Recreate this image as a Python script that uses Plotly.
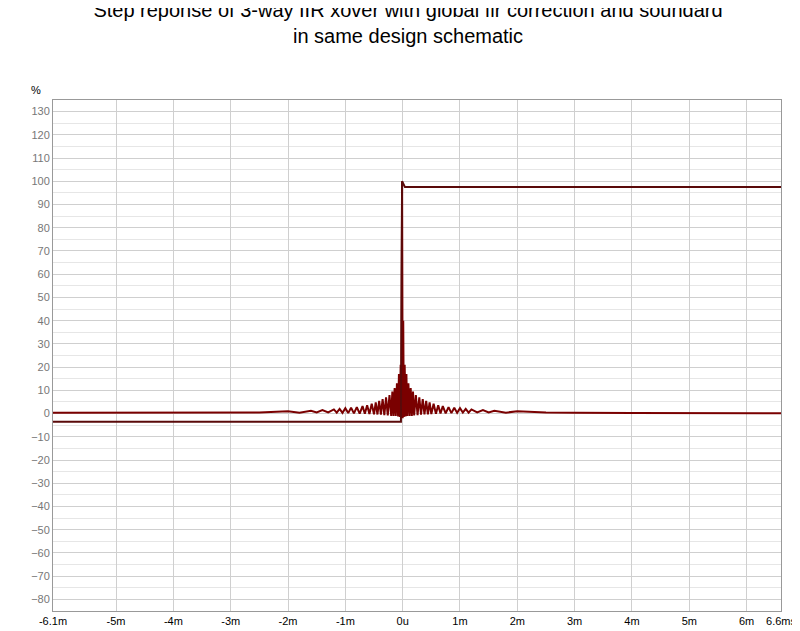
import plotly.graph_objects as go

# step response (ms, %)
step_t = [-6.1, -0.03, -0.02, -0.01, 0.04, 0.05, 6.6]
step_y = [-3.5, -3.5, 60.0, 100.0, 97.5, 97.5, 97.5]

# fir correction ringing (ms, %)
ring_t = [-6.1, -4.0, -3.0, -2.5, -2.0, -1.8, -1.6, -1.5, -1.4, -1.3, -1.2, -1.15, -1.1, -1.05, -1.0,
          -0.95, -0.9, -0.85, -0.8, -0.75, -0.7, -0.66, -0.62, -0.58, -0.54, -0.5, -0.47, -0.44,
          -0.41, -0.38, -0.35, -0.32, -0.29, -0.26, -0.23, -0.2, -0.18, -0.16, -0.14, -0.12, -0.1,
          -0.08, -0.065, -0.05, -0.035, -0.02, -0.01,
          0.0, 0.01, 0.02, 0.035, 0.05, 0.065, 0.08, 0.1, 0.12, 0.14, 0.16, 0.18, 0.2, 0.23, 0.26,
          0.29, 0.32, 0.35, 0.38, 0.41, 0.44, 0.47, 0.5, 0.54, 0.58, 0.62, 0.66, 0.7, 0.75, 0.8,
          0.85, 0.9, 0.95, 1.0, 1.05, 1.1, 1.15, 1.2, 1.3, 1.4, 1.5, 1.6, 1.8, 2.0, 2.5, 3.0, 4.0, 6.6]
ring_y = [0.3, 0.4, 0.6, 0.5, 1.0, 0.4, 1.2, 0.5, 1.5, 0.5, 1.8, 0.4, 2.0, 0.3, 2.3,
          0.2, 2.5, 0.1, 2.8, 0.0, 3.2, -0.1, 3.6, -0.2, 4.2, -0.3, 4.8, -0.4,
          5.5, -0.5, 6.2, -0.7, 7.0, -0.8, 8.0, -1.0, 9.5, -1.0, 11.0, -1.0, 13.0,
          -1.2, 17.0, -1.5, 21.0, -2.0, 100.0,
          -2.0, 40.0, -1.5, 21.0, -1.2, 17.0, -1.0, 13.0, -1.0, 11.0, -1.0, 9.5, -0.8, 8.0, -0.7,
          7.0, -0.5, 6.2, -0.4, 5.5, -0.3, 4.8, -0.2, 4.2, -0.1, 3.6, 0.0, 3.2, 0.1, 2.8,
          0.2, 2.5, 0.3, 2.3, 0.4, 2.0, 0.4, 1.8, 0.5, 1.5, 0.5, 1.2, 0.4, 1.0, 0.5, 0.4, 0.2, 0.1]

x_ticks = [-6.1, -5, -4, -3, -2, -1, 0, 1, 2, 3, 4, 5, 6, 6.6]
x_labels = ['-6.1m', '-5m', '-4m', '-3m', '-2m', '-1m', '0u', '1m', '2m', '3m', '4m', '5m', '6m', '6.6ms']
y_ticks = list(range(-80, 140, 10))

fig = go.Figure()
fig.add_trace(go.Scatter(x=ring_t, y=ring_y, mode='lines', line=dict(color='#7a0000', width=2), showlegend=False))
fig.add_trace(go.Scatter(x=step_t, y=step_y, mode='lines', line=dict(color='#5a0a0a', width=2), showlegend=False))

fig.update_layout(
    width=800, height=631,
    title=dict(text='Step reponse of 3-way IIR xover with global fir correction and soundard<br>in same design schematic',
               x=0.5, xanchor='center', y=0.985, yanchor='top',
               font=dict(family='Liberation Sans, Arial', size=20, color='black')),
    font=dict(family='Liberation Sans, Arial', size=11, color='#555'),
    margin=dict(l=45, r=22, t=92, b=28),
    paper_bgcolor='white', plot_bgcolor='white',
    xaxis=dict(range=[-6.1, 6.6], tickvals=x_ticks, ticktext=x_labels, showgrid=True, gridcolor='#cfcfcf',
               zeroline=False, showline=True, mirror=True, linecolor='#999', ticks='', tickfont=dict(color='black')),
    yaxis=dict(range=[-85, 135], tickvals=y_ticks, showgrid=True, gridcolor='#cfcfcf',
               minor=dict(dtick=5, showgrid=True, gridcolor='#e6e6e6'),
               zeroline=False, showline=True, mirror=True, linecolor='#999', ticks='', tickfont=dict(color='#777')),
    annotations=[dict(text='%', x=0, xref='paper', xanchor='right', xshift=-10, y=1, yref='paper', yanchor='bottom',
                      yshift=2, showarrow=False, font=dict(size=11, color='black'))],
)

fig.write_html('out.html')
